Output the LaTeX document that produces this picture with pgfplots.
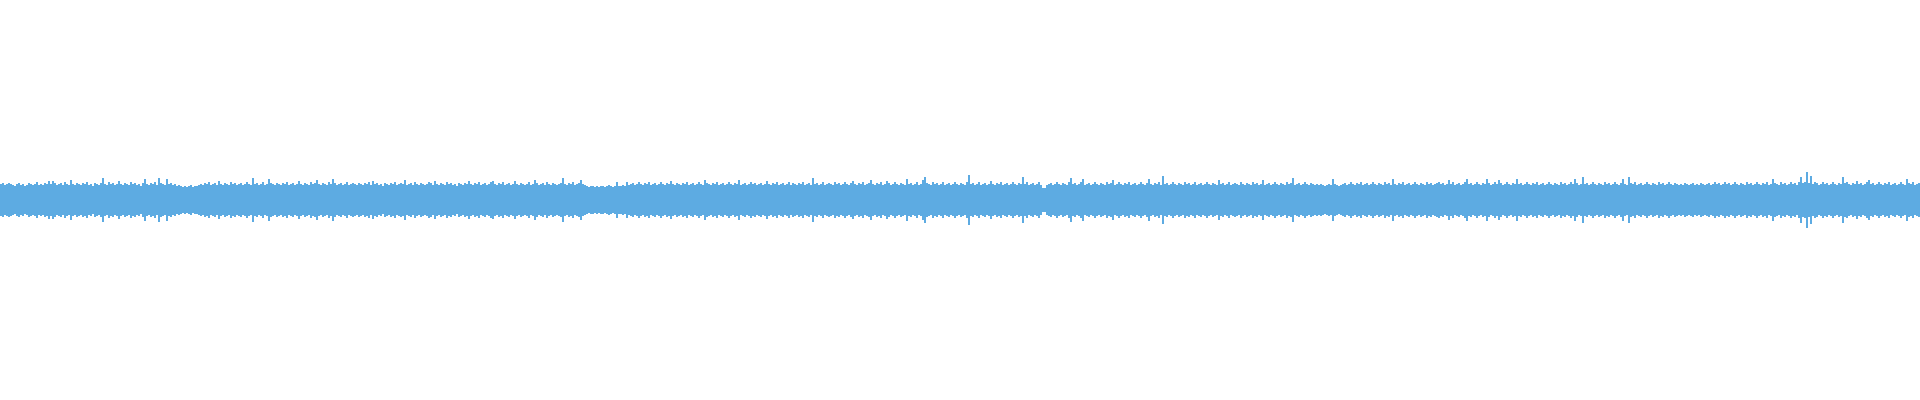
\documentclass[border=0pt]{standalone}
\usepackage{pgfplots}
\pgfplotsset{compat=1.18}
\usepackage{pgfplotstable}
\definecolor{wave}{RGB}{93,171,226}
\pgfplotstableread[row sep=\\]{
a\\
16\\17\\15\\16\\17\\16\\15\\14\\16\\17\\15\\16\\14\\15\\17\\16\\15\\16\\18\\15\\
16\\15\\17\\16\\19\\16\\19\\17\\15\\16\\17\\15\\18\\16\\15\\20\\16\\15\\17\\16\\
15\\17\\16\\18\\15\\16\\14\\17\\16\\15\\17\\22\\16\\15\\18\\16\\17\\15\\16\\19\\
16\\15\\17\\16\\15\\18\\16\\17\\15\\16\\14\\17\\21\\16\\15\\17\\16\\18\\15\\22\\
17\\16\\15\\21\\16\\17\\15\\16\\14\\15\\14\\13\\14\\13\\14\\15\\13\\14\\14\\15\\
16\\15\\17\\16\\18\\15\\16\\17\\15\\19\\16\\15\\17\\16\\15\\18\\16\\17\\15\\16\\
17\\15\\16\\18\\16\\15\\22\\16\\17\\15\\16\\18\\15\\16\\21\\17\\16\\15\\17\\16\\
15\\17\\16\\18\\15\\16\\17\\15\\16\\19\\16\\15\\17\\16\\15\\18\\16\\17\\20\\16\\
15\\17\\16\\15\\18\\16\\21\\17\\15\\16\\17\\15\\16\\18\\15\\16\\17\\16\\15\\17\\
16\\15\\17\\16\\18\\15\\19\\16\\17\\15\\16\\14\\17\\16\\15\\17\\16\\18\\15\\16\\
17\\16\\20\\15\\16\\17\\15\\18\\16\\15\\17\\16\\15\\16\\18\\17\\15\\19\\16\\15\\
17\\16\\15\\18\\16\\17\\15\\16\\14\\17\\16\\15\\17\\16\\19\\16\\15\\17\\16\\18\\
15\\16\\17\\15\\16\\18\\19\\16\\15\\17\\16\\18\\15\\16\\17\\15\\16\\19\\16\\15\\
17\\16\\15\\16\\18\\15\\16\\20\\17\\15\\16\\17\\15\\18\\16\\15\\17\\16\\15\\16\\
17\\22\\16\\15\\17\\16\\18\\15\\16\\17\\20\\16\\15\\14\\13\\14\\14\\13\\14\\13\\
14\\14\\13\\14\\15\\14\\13\\14\\18\\14\\14\\15\\14\\18\\15\\16\\17\\15\\16\\18\\
16\\15\\17\\16\\18\\15\\16\\17\\15\\16\\18\\16\\15\\17\\16\\19\\16\\15\\17\\16\\
15\\17\\16\\18\\15\\16\\17\\15\\16\\18\\16\\15\\20\\17\\16\\15\\17\\16\\18\\15\\
16\\17\\15\\16\\18\\16\\15\\17\\16\\20\\15\\16\\17\\15\\16\\18\\16\\17\\15\\16\\
17\\15\\16\\19\\16\\15\\17\\16\\18\\15\\16\\17\\15\\16\\18\\15\\17\\16\\15\\17\\
16\\18\\15\\16\\17\\15\\22\\16\\17\\15\\16\\18\\15\\16\\17\\16\\15\\18\\16\\17\\
15\\16\\18\\16\\15\\17\\19\\16\\15\\17\\16\\18\\15\\16\\17\\20\\16\\15\\17\\16\\
18\\15\\16\\19\\17\\15\\16\\18\\16\\15\\17\\16\\15\\21\\16\\17\\15\\16\\18\\15\\
16\\20\\23\\17\\16\\15\\18\\16\\17\\15\\16\\18\\15\\16\\17\\15\\16\\18\\16\\15\\
17\\16\\15\\18\\25\\16\\17\\15\\16\\18\\15\\16\\17\\15\\16\\19\\16\\15\\17\\16\\
18\\15\\16\\17\\15\\16\\18\\16\\15\\17\\16\\23\\16\\18\\15\\16\\17\\15\\16\\18\\
15\\12\\12\\15\\16\\17\\15\\16\\18\\16\\15\\17\\16\\15\\18\\22\\16\\17\\15\\16\\
18\\21\\15\\16\\17\\15\\16\\18\\16\\15\\17\\16\\15\\18\\16\\17\\20\\15\\16\\18\\
16\\15\\17\\16\\18\\15\\16\\17\\15\\16\\18\\16\\15\\17\\21\\16\\15\\17\\16\\18\\
15\\24\\16\\17\\15\\16\\18\\16\\15\\17\\16\\15\\18\\16\\17\\15\\16\\18\\15\\16\\
17\\15\\16\\18\\16\\15\\17\\16\\15\\20\\16\\17\\15\\16\\18\\15\\16\\17\\16\\15\\
18\\16\\15\\17\\16\\15\\18\\16\\17\\15\\16\\20\\15\\16\\17\\15\\16\\18\\16\\15\\
17\\16\\15\\18\\16\\17\\22\\15\\16\\17\\15\\16\\18\\16\\15\\17\\16\\15\\16\\15\\
16\\15\\14\\15\\16\\15\\21\\16\\15\\14\\15\\16\\17\\15\\16\\18\\16\\15\\17\\16\\
18\\15\\16\\17\\15\\16\\18\\16\\15\\17\\16\\15\\18\\16\\17\\15\\21\\16\\15\\17\\
16\\18\\15\\16\\17\\15\\16\\18\\16\\15\\17\\16\\15\\18\\16\\17\\15\\16\\17\\18\\
16\\17\\15\\16\\20\\16\\18\\15\\16\\17\\15\\16\\18\\21\\16\\17\\15\\16\\18\\16\\
15\\17\\16\\21\\17\\15\\16\\18\\16\\20\\17\\15\\16\\18\\16\\15\\17\\16\\21\\16\\
17\\15\\16\\18\\16\\15\\17\\16\\18\\15\\16\\17\\15\\16\\18\\16\\15\\17\\16\\15\\
18\\16\\17\\15\\16\\18\\16\\21\\17\\15\\16\\23\\16\\17\\15\\16\\18\\16\\15\\17\\
16\\15\\18\\16\\17\\15\\16\\18\\16\\15\\17\\21\\16\\15\\23\\17\\16\\18\\15\\16\\
17\\15\\16\\18\\16\\15\\17\\16\\15\\18\\16\\17\\15\\16\\18\\16\\15\\17\\16\\15\\
16\\15\\17\\16\\15\\16\\17\\15\\16\\15\\17\\16\\15\\16\\17\\15\\16\\18\\16\\17\\
15\\16\\18\\16\\17\\15\\16\\18\\16\\15\\17\\16\\15\\18\\16\\17\\15\\16\\18\\16\\
15\\17\\16\\18\\15\\16\\21\\17\\16\\15\\18\\16\\17\\15\\16\\18\\16\\17\\15\\18\\
23\\17\\18\\28\\17\\24\\16\\18\\17\\15\\16\\18\\16\\17\\15\\16\\18\\16\\15\\17\\
16\\23\\17\\18\\16\\15\\17\\16\\19\\16\\17\\15\\16\\18\\20\\16\\17\\15\\16\\18\\
16\\15\\17\\16\\18\\15\\16\\17\\15\\16\\18\\16\\15\\21\\17\\16\\18\\15\\16\\17\\
}\amp
\begin{document}
\begin{tikzpicture}
\begin{axis}[scale only axis, width=960pt, height=200pt,
  xmin=-0.5, xmax=959.5, ymin=-200, ymax=200,
  hide axis, clip=false]
\addplot[ycomb, draw=wave, line width=1.05pt, mark=none] table[x expr=\coordindex, y index=0] {\amp};
\addplot[ycomb, draw=wave, line width=1.05pt, mark=none] table[x expr=\coordindex, y index=0, y expr=-\thisrowno{0}] {\amp};
\draw[draw=none] (rel axis cs:0,0) rectangle (rel axis cs:1,1);
\end{axis}
\end{tikzpicture}
\end{document}
